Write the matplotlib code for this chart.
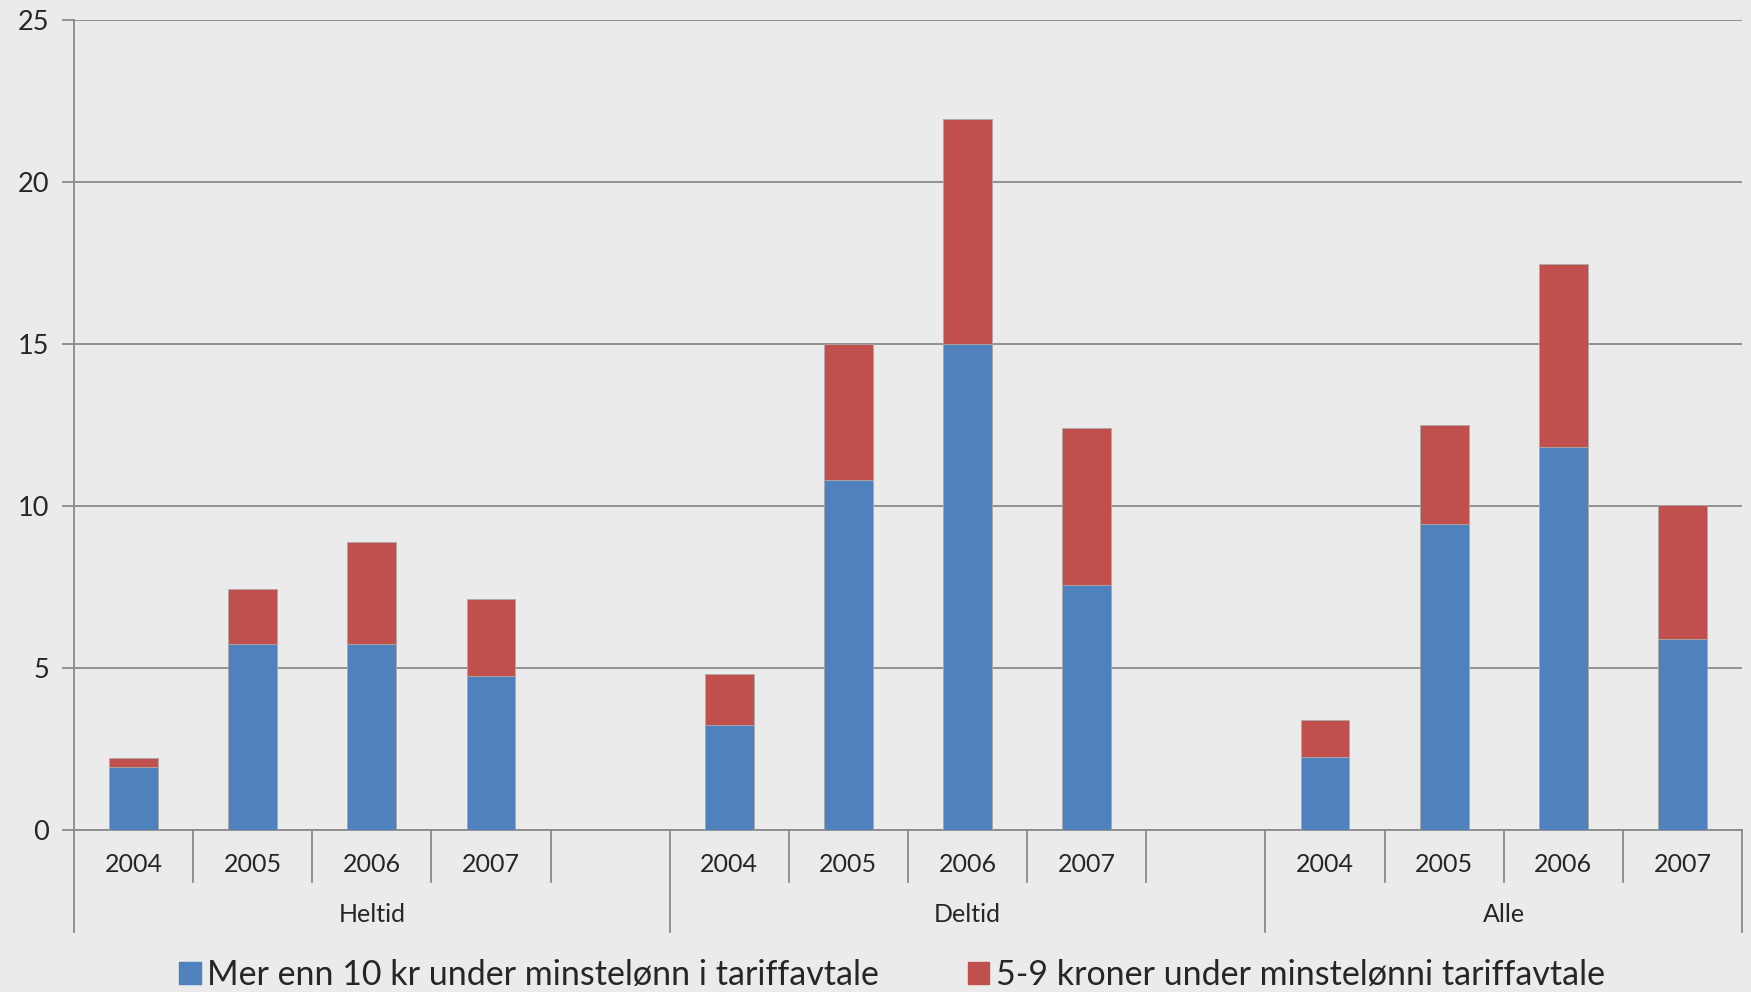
import matplotlib
matplotlib.use("Agg")
import matplotlib.pyplot as plt
from matplotlib.patches import Patch
import matplotlib.transforms as mtransforms

plt.rcParams['font.family'] = ['Lato', 'DejaVu Sans']

# Data: share of employees paid below the tariff minimum wage
groups = ["Heltid", "Deltid", "Alle"]
years = ["2004", "2005", "2006", "2007"]
over_10kr = {
    "Heltid": [1.95, 5.73, 5.73, 4.75],
    "Deltid": [3.23, 10.79, 15.0, 7.55],
    "Alle":   [2.24, 9.45, 11.81, 5.91],
}
kr_5_9 = {
    "Heltid": [0.26, 1.71, 3.16, 2.38],
    "Deltid": [1.60, 4.20, 6.95, 4.85],
    "Alle":   [1.16, 3.05, 5.66, 4.13],
}
series_labels = ["Mer enn 10 kr under minstelønn i tariffavtale",
                 "5-9 kroner under minstelønni tariffavtale"]
y_ticks = [0, 5, 10, 15, 20, 25]

blue = "#4F81BD"
red = "#C0504D"
bg = "#EBEBEB"
grid_c = "#8A8A8A"
text_c = "#262626"

W, H = 1751, 992
fig = plt.figure(figsize=(W / 100, H / 100), dpi=100, facecolor=bg)
ax = fig.add_axes([74 / W, 1 - 830 / H, (1742 - 74) / W, (830 - 20) / H])
ax.set_facecolor(bg)

# slot layout: each group gets one slot per year plus a blank slot, except the last
slots_per_group = len(years) + 1
n_slots = slots_per_group * len(groups) - 1
bar_w = 0.41

for gi, g in enumerate(groups):
    xs = [gi * slots_per_group + i for i in range(len(years))]
    ax.bar(xs, over_10kr[g], width=bar_w, color=blue, edgecolor="#A9A9A9",
           linewidth=0.6, zorder=3)
    ax.bar(xs, kr_5_9[g], width=bar_w, bottom=over_10kr[g], color=red,
           edgecolor="#A9A9A9", linewidth=0.6, zorder=3)

ax.set_xlim(-0.5, n_slots - 0.5)
ax.set_ylim(0, 25)
ax.set_yticks(y_ticks)
ax.set_yticklabels([str(t) for t in y_ticks], fontsize=19.5, color=text_c)
ax.tick_params(axis='y', length=9, width=1.3, color=grid_c, pad=9)
ax.set_xticks([])
ax.grid(axis='y', color=grid_c, linewidth=1.3, zorder=0)
for s in ["top", "right"]:
    ax.spines[s].set_visible(False)
ax.spines["left"].set_color(grid_c)
ax.spines["left"].set_linewidth(1.3)
ax.spines["bottom"].set_color(grid_c)
ax.spines["bottom"].set_linewidth(1.3)

# two-level category axis
trans = mtransforms.blended_transform_factory(ax.transData, ax.transAxes)
yr_sep = -52 / 810
grp_sep = -102 / 810
for k in range(n_slots + 1):
    x = k - 0.5
    is_group_edge = (k % slots_per_group == 0) or k == n_slots
    y_end = grp_sep if is_group_edge else yr_sep
    ax.plot([x, x], [0, y_end], transform=trans, color=grid_c, lw=1.3,
            clip_on=False, zorder=1)

for gi, g in enumerate(groups):
    for i, yr in enumerate(years):
        ax.text(gi * slots_per_group + i, -35 / 810, yr, transform=trans,
                ha='center', va='center', fontsize=18, color=text_c)
    g_left = gi * slots_per_group - 0.5
    g_right = min((gi + 1) * slots_per_group, n_slots) - 0.5
    ax.text((g_left + g_right) / 2, -85 / 810, g, transform=trans,
            ha='center', va='center', fontsize=18, color=text_c)

handles = [Patch(facecolor=blue, edgecolor=blue), Patch(facecolor=red, edgecolor=red)]
fig.legend(handles, series_labels, loc='center', ncol=2,
           bbox_to_anchor=(892 / W, 1 - 975 / H), frameon=False,
           fontsize=24.5, handlelength=0.62, handleheight=0.62,
           handletextpad=0.2, columnspacing=2.6, labelcolor=text_c)

fig.savefig("out.png", dpi=100, facecolor=bg)
